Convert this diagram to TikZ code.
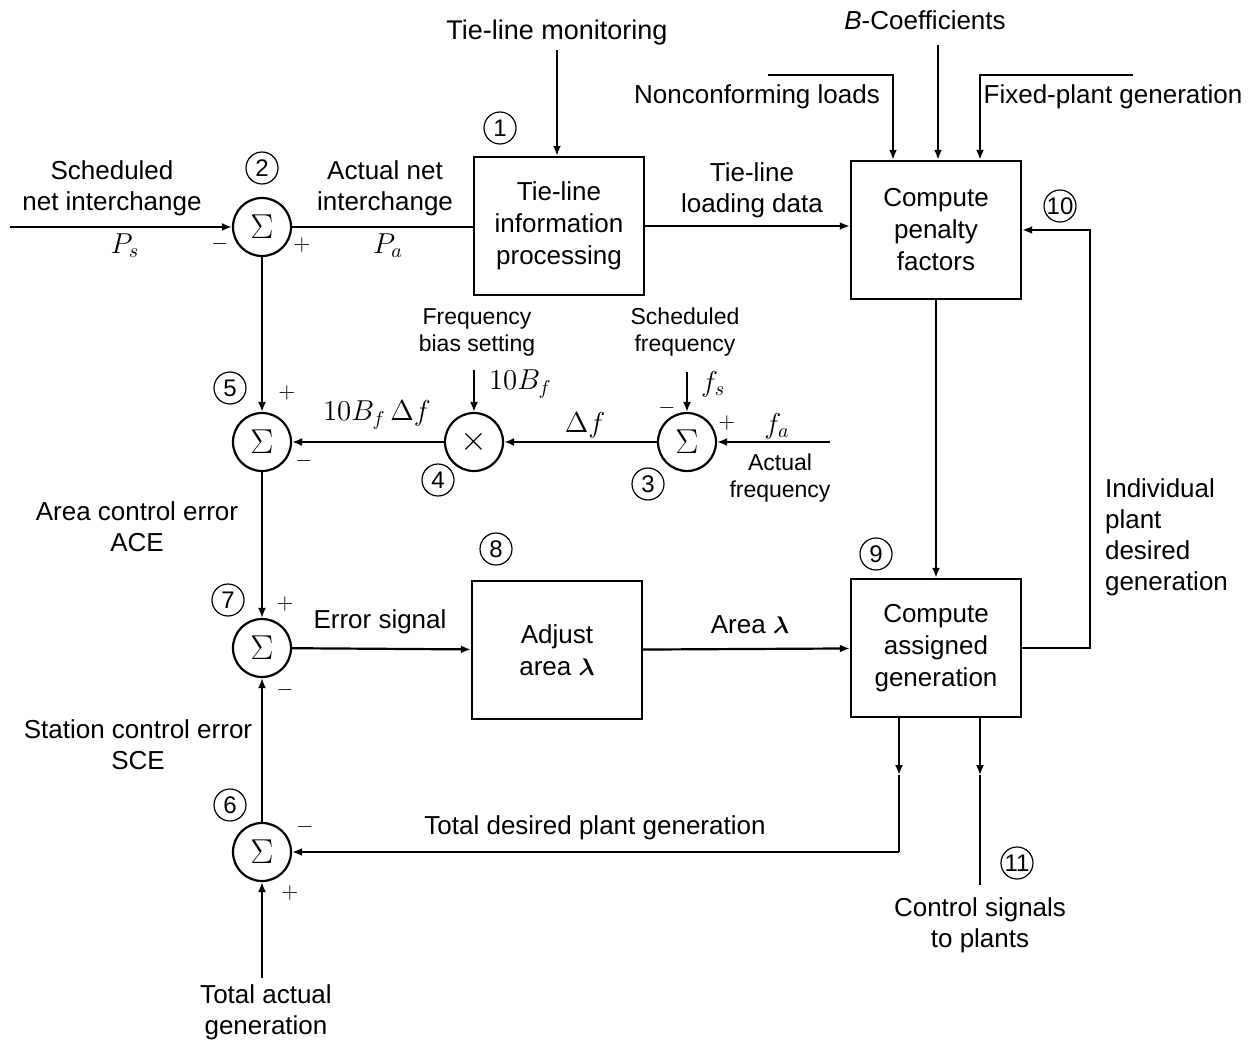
\documentclass[tikz,border=0pt]{standalone}
\usepackage{fontspec}
\setmainfont{Liberation Sans}
\usepackage{bm}
\usepackage{tikz}
\usetikzlibrary{positioning, arrows.meta, calc}

\begin{document}
\begin{tikzpicture}[x=0.5pt, y=-0.5pt]
        \tikzset{
            block/.style={
                    draw=black, line width=1.2pt, minimum width=85pt, minimum height=69pt,
                    align=center, font=\fontsize{13}{16}\selectfont
                },
            summer/.style={
                    circle, draw=black, line width=1.1pt, minimum size=29pt, inner sep=0pt,
                    font=\fontsize{16}{16}\selectfont
                },
            tag/.style={
                    circle, draw=black, line width=0.6pt, minimum size=16pt, inner sep=0pt,
                    font=\fontsize{12}{12}\selectfont
                },
            signal label/.style={font=\fontsize{13}{15.5}\selectfont, align=center},
            small label/.style={font=\fontsize{11.5}{13.5}\selectfont, align=center},
            math label/.style={font=\fontsize{14}{14}\selectfont},
            sign/.style={font=\fontsize{11}{11}\selectfont, inner sep=0pt},
            flow/.style={line width=1.1pt, -{Latex[length=5pt, width=4pt]}},
            wire/.style={line width=1.1pt}
        }
        \useasboundingbox (0,0) rectangle (1253,1043);

        % blocks
        \node[block] (tie) at (559,226) {Tie-line\\information\\processing};
        \node[block] (pen) at (936,230) {Compute\\penalty\\factors};
        \node[block] (adj) at (557,650) {Adjust\\area $\bm{\lambda}$};
        \node[block] (asg) at (936,648) {Compute\\assigned\\generation};

        % summing and multiplying points
        \node[summer] (s2) at (262,227) {$\Sigma$};
        \node[summer] (s5) at (262,442) {$\Sigma$};
        \node[summer] (mul) at (474,442) {$\times$};
        \node[summer] (s3) at (687,442) {$\Sigma$};
        \node[summer] (s7) at (262,648) {$\Sigma$};
        \node[summer] (s6) at (262,852) {$\Sigma$};

        % numbered tags
        \node[tag] (t1) at (500,128) {1};
        \node[tag] (t2) at (262,168) {2};
        \node[tag] (t3) at (648,484) {3};
        \node[tag] (t4) at (438,480) {4};
        \node[tag] (t5) at (230,388) {5};
        \node[tag] (t6) at (230,805) {6};
        \node[tag] (t7) at (228,600) {7};
        \node[tag] (t8) at (496,549) {8};
        \node[tag] (t9) at (876,554) {9};
        \node[tag] (t10) at (1060,206) {10};
        \node[tag] (t11) at (1017,863) {11};

        % free ends
        \coordinate (sni) at (10,227);
        \coordinate (tlm) at (557,50);
        \coordinate (ncl0) at (768,75);
        \coordinate (ncl1) at (893,75);
        \coordinate (bco) at (938,45);
        \coordinate (fpg0) at (1133,75);
        \coordinate (fpg1) at (980,75);
        \coordinate (fb) at (1090,648);
        \coordinate (fbs) at (474,370);
        \coordinate (sfq) at (687,372);
        \coordinate (afq) at (830,442);
        \coordinate (tag0) at (262,978);
        \coordinate (tdp0) at (899,775);
        \coordinate (tdp1) at (899,852);
        \coordinate (cs0) at (980,775);
        \coordinate (cs1) at (980,885);

        % connectors
        \draw[flow] (sni) -- (s2);
        \draw[wire] (s2.east) -- (s2.east -| tie.west);
        \draw[flow] (tlm) -- (tlm |- tie.north);
        \draw[flow] (tie.east) -- (tie.east -| pen.west);
        \draw[flow] (ncl0) -- (ncl1) -- (ncl1 |- pen.north);
        \draw[flow] (bco) -- (bco |- pen.north);
        \draw[flow] (fpg0) -- (fpg1) -- (fpg1 |- pen.north);
        \draw[flow] (pen) -- (asg);
        \draw[flow] (asg.east) -- (fb) -- (fb |- pen.east) -- (pen.east);
        \draw[flow] (adj) -- (asg);
        \draw[flow] (s7) -- (adj);
        \draw[flow] (s2) -- (s5);
        \draw[flow] (s5) -- (s7);
        \draw[flow] (s6) -- (s7);
        \draw[flow] (tag0) -- (s6);
        \draw[flow] (mul) -- (s5);
        \draw[flow] (s3) -- (mul);
        \draw[flow] (afq) -- (s3);
        \draw[flow] (fbs) -- (mul);
        \draw[flow] (sfq) -- (s3);
        \draw[flow] (asg.south -| tdp0) -- (tdp0);
        \draw[wire] (tdp0) -- (tdp1);
        \draw[flow] (tdp1) -- (s6);
        \draw[flow, line width=0.8pt] (asg.south -| cs0) -- (cs0);
        \draw[line width=0.8pt] (cs0) -- (cs1);

        % labels
        \node[signal label] at (112,188) {Scheduled\\net interchange};
        \node[math label] at (125,246) {$P_s$};
        \node[sign] at (220,244) {$-$};
        \node[sign] at (302,245) {$+$};
        \node[signal label] at (385,188) {Actual net\\interchange};
        \node[math label] at (388,246) {$P_a$};
        \node[signal label, font=\fontsize{13.5}{16}\selectfont] at (557,33) {Tie-line monitoring};
        \node[signal label] at (752,190) {Tie-line\\loading data};
        \node[signal label] at (925,20) {\textit{B}-Coefficients};
        \node[signal label] at (757,97) {Nonconforming loads};
        \node[signal label] at (1113,97) {Fixed-plant generation};
        \node[small label] at (477,332) {Frequency\\bias setting};
        \node[small label] at (685,332) {Scheduled\\frequency};
        \node[math label, anchor=west] at (482,384) {$10B_f$};
        \node[math label, anchor=west] at (694,384) {$f_s$};
        \node[sign] at (667,408) {$-$};
        \node[sign] at (727,423) {$+$};
        \node[math label] at (777,426) {$f_a$};
        \node[small label] at (780,478) {Actual\\frequency};
        \node[math label] at (585,425) {$\Delta f$};
        \node[math label] at (377,415) {$10B_f\,\Delta f$};
        \node[sign] at (287,393) {$+$};
        \node[sign] at (304,461) {$-$};
        \node[signal label] at (137,527) {Area control error\\ACE};
        \node[sign] at (285,604) {$+$};
        \node[sign] at (285,690) {$-$};
        \node[signal label] at (380,622) {Error signal};
        \node[signal label] at (750,625) {Area $\bm{\lambda}$};
        \node[signal label, align=left, anchor=west] at (1098,537) {Individual\\plant\\desired\\generation};
        \node[signal label] at (138,745) {Station control error\\SCE};
        \node[sign] at (305,827) {$-$};
        \node[sign] at (290,893) {$+$};
        \node[signal label] at (595,828) {Total desired plant generation};
        \node[signal label] at (980,925) {Control signals\\to plants};
        \node[signal label] at (266,1012) {Total actual\\generation};
    \end{tikzpicture}
\end{document}
